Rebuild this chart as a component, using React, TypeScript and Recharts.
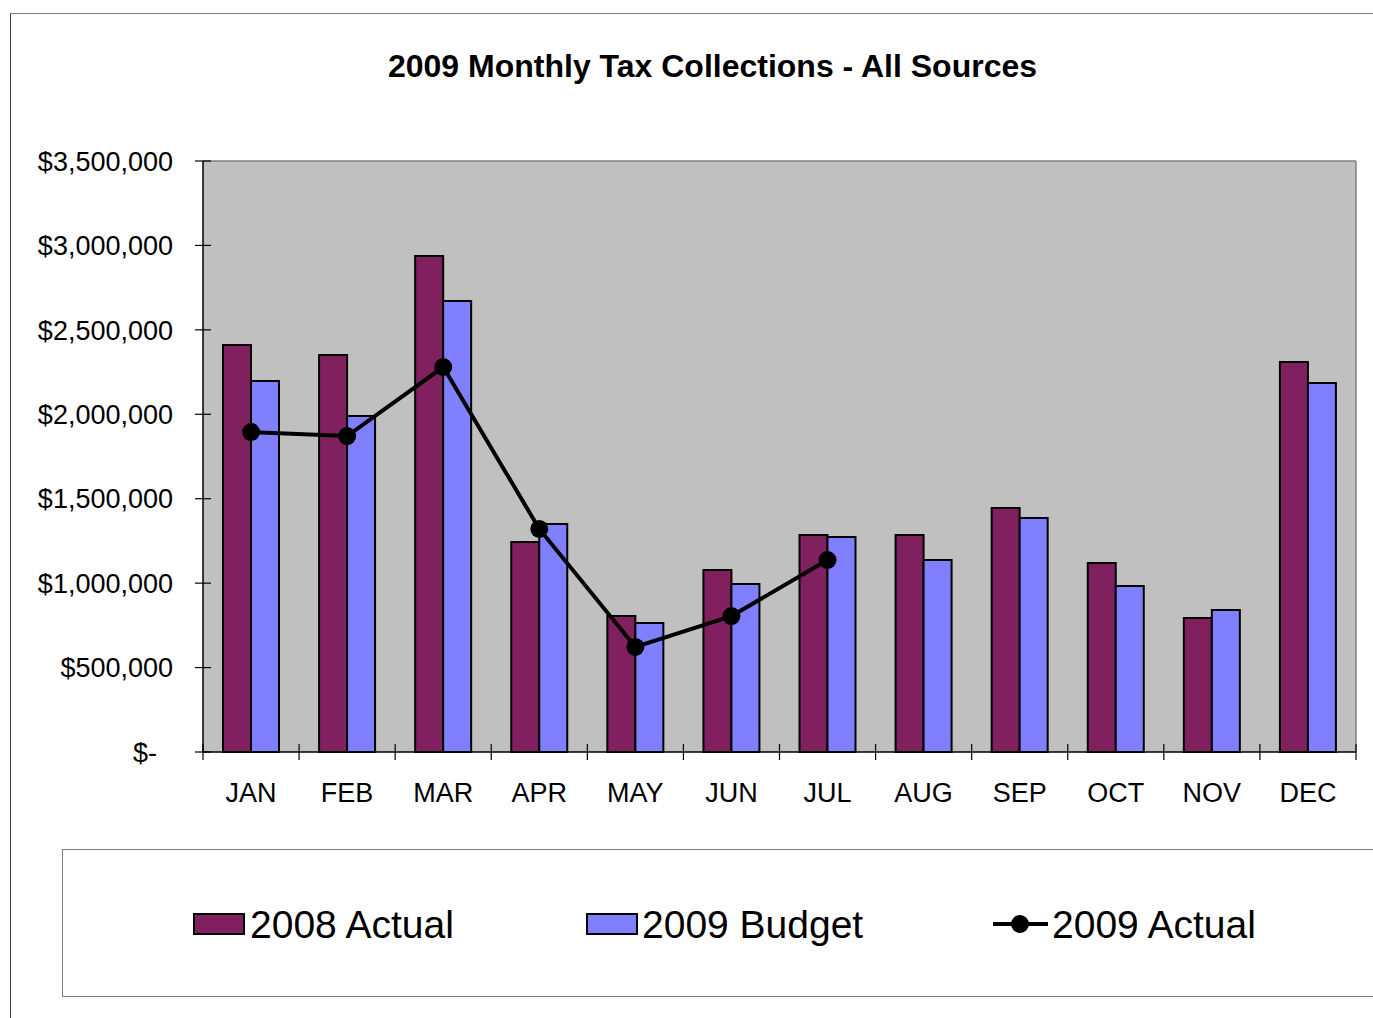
import {
  ComposedChart,
  Bar,
  Line,
  XAxis,
  YAxis,
  CartesianGrid,
  ReferenceLine,
} from "recharts";

const MONTHS = ["JAN", "FEB", "MAR", "APR", "MAY", "JUN", "JUL", "AUG", "SEP", "OCT", "NOV", "DEC"];
const ACTUAL_2008 = [2410000, 2351000, 2937000, 1244000, 805000, 1078000, 1285000, 1285000, 1445000, 1119000, 794000, 2310000];
const BUDGET_2009 = [2197000, 1990000, 2671000, 1350000, 764000, 995000, 1273000, 1137000, 1386000, 983000, 841000, 2185000];
const ACTUAL_2009 = [1895000, 1871000, 2280000, 1321000, 622000, 805000, 1137000, null, null, null, null, null];
const Y_TICKS = [0, 500000, 1000000, 1500000, 2000000, 2500000, 3000000, 3500000];

const data = MONTHS.map((month, i) => ({
  month,
  actual2008: ACTUAL_2008[i],
  budget2009: BUDGET_2009[i],
  actual2009: ACTUAL_2009[i],
}));

const FONT = '"Liberation Sans", Arial, sans-serif';
const PLUM = "#80205F";
const PERIWINKLE = "#8080FF";

function money(v: number) {
  if (v === 0) return "$-";
  return "$" + v.toLocaleString("en-US");
}

function YTick(props: any) {
  const { x, y, payload } = props;
  const zero = payload.value === 0;
  return (
    <g>
      <line x1={x - 8} x2={x + 8} y1={y} y2={y} stroke="#000" strokeWidth={1.2} />
      <text
        x={zero ? x - 46 : x - 30}
        y={y}
        dy="0.36em"
        textAnchor="end"
        fontSize={27}
        fontFamily={FONT}
        fill="#000"
      >
        {money(payload.value)}
      </text>
    </g>
  );
}

// month label + tick marks on the band edges (excel style)
function XTick(props: any) {
  const { x, y, payload, index, visibleTicksCount } = props;
  const half = payload.offset || 0;
  const axisY = y - 31;
  const last = index === (visibleTicksCount ?? MONTHS.length) - 1;
  return (
    <g>
      <line x1={x - half} x2={x - half} y1={axisY - 8} y2={axisY + 8} stroke="#000" strokeWidth={1.2} />
      {last && (
        <line x1={x + half} x2={x + half} y1={axisY - 8} y2={axisY + 8} stroke="#000" strokeWidth={1.2} />
      )}
      <text x={x} y={y} dy="0.71em" textAnchor="middle" fontSize={27} fontFamily={FONT} fill="#000">
        {payload.value}
      </text>
    </g>
  );
}

function Dot(props: any) {
  const { cx, cy, value } = props;
  if (value == null || cx == null || cy == null) return null;
  return <circle cx={cx} cy={cy} r={9} fill="#000" />;
}

function LegendBox() {
  const text = { position: "absolute" as const, top: 902, fontSize: 39, fontFamily: FONT, lineHeight: "46px", color: "#000" };
  return (
    <>
      <div
        style={{
          position: "absolute",
          left: 62,
          top: 849,
          width: 1400,
          height: 148,
          border: "1.5px solid #808080",
          boxSizing: "border-box",
        }}
      />
      <div style={{ position: "absolute", left: 193, top: 913, width: 52, height: 22, background: PLUM, border: "2px solid #000", boxSizing: "border-box" }} />
      <div style={{ ...text, left: 250 }}>2008 Actual</div>
      <div style={{ position: "absolute", left: 586, top: 913, width: 52, height: 22, background: PERIWINKLE, border: "2px solid #000", boxSizing: "border-box" }} />
      <div style={{ ...text, left: 642 }}>2009 Budget</div>
      <svg style={{ position: "absolute", left: 990, top: 910 }} width={62} height={30}>
        <line x1={3} x2={58} y1={14} y2={14} stroke="#000" strokeWidth={4} />
        <circle cx={30} cy={14} r={9} fill="#000" />
      </svg>
      <div style={{ ...text, left: 1052 }}>2009 Actual</div>
    </>
  );
}

export default function App() {
  return (
    <div style={{ position: "absolute", left: 0, top: 0, width: 1373, height: 1018, overflow: "hidden", background: "#fff" }}>
      <div
        style={{
          position: "absolute",
          left: 10,
          top: 13,
          width: 1420,
          height: 1030,
          borderTop: "1.5px solid #808080",
          borderLeft: "1.5px solid #404040",
        }}
      />
      <div
        style={{
          position: "absolute",
          left: 0,
          width: 1425,
          top: 45,
          textAlign: "center",
          fontFamily: FONT,
          fontWeight: "bold",
          fontSize: 32,
          lineHeight: "42px",
          color: "#000",
        }}
      >
        2009 Monthly Tax Collections - All Sources
      </div>
      <div style={{ position: "absolute", left: 0, top: 0 }}>
        <ComposedChart
          width={1373}
          height={1018}
          data={data}
          margin={{ top: 161, right: 16, left: 3, bottom: 206 }}
          barCategoryGap={20}
          barGap={0}
        >
          <CartesianGrid fill="#C0C0C0" horizontal={false} vertical={false} />
          <XAxis
            dataKey="month"
            height={60}
            tickLine={false}
            tickSize={0}
            tickMargin={31}
            axisLine={{ stroke: "#000", strokeWidth: 1.5 }}
            tick={<XTick />}
            interval={0}
          />
          <YAxis
            width={200}
            domain={[0, 3500000]}
            ticks={Y_TICKS}
            interval={0}
            tickLine={false}
            tickSize={0}
            tickMargin={0}
            axisLine={{ stroke: "#000", strokeWidth: 1.5 }}
            tick={<YTick />}
          />
          <YAxis
            yAxisId="frame"
            orientation="right"
            width={1}
            domain={[0, 3500000]}
            tick={false}
            tickLine={false}
            axisLine={{ stroke: "#808080", strokeWidth: 1.5 }}
          />
          <ReferenceLine y={3500000} stroke="#808080" strokeWidth={1.5} />
          <Bar
            dataKey="actual2008"
            fill={PLUM}
            stroke="#000"
            strokeWidth={2}
            isAnimationActive={false}
          />
          <Bar
            dataKey="budget2009"
            fill={PERIWINKLE}
            stroke="#000"
            strokeWidth={2}
            isAnimationActive={false}
          />
          <Line
            dataKey="actual2009"
            stroke="#000"
            strokeWidth={4}
            dot={<Dot />}
            activeDot={false}
            connectNulls={false}
            isAnimationActive={false}
          />
        </ComposedChart>
      </div>
      <LegendBox />
    </div>
  );
}
